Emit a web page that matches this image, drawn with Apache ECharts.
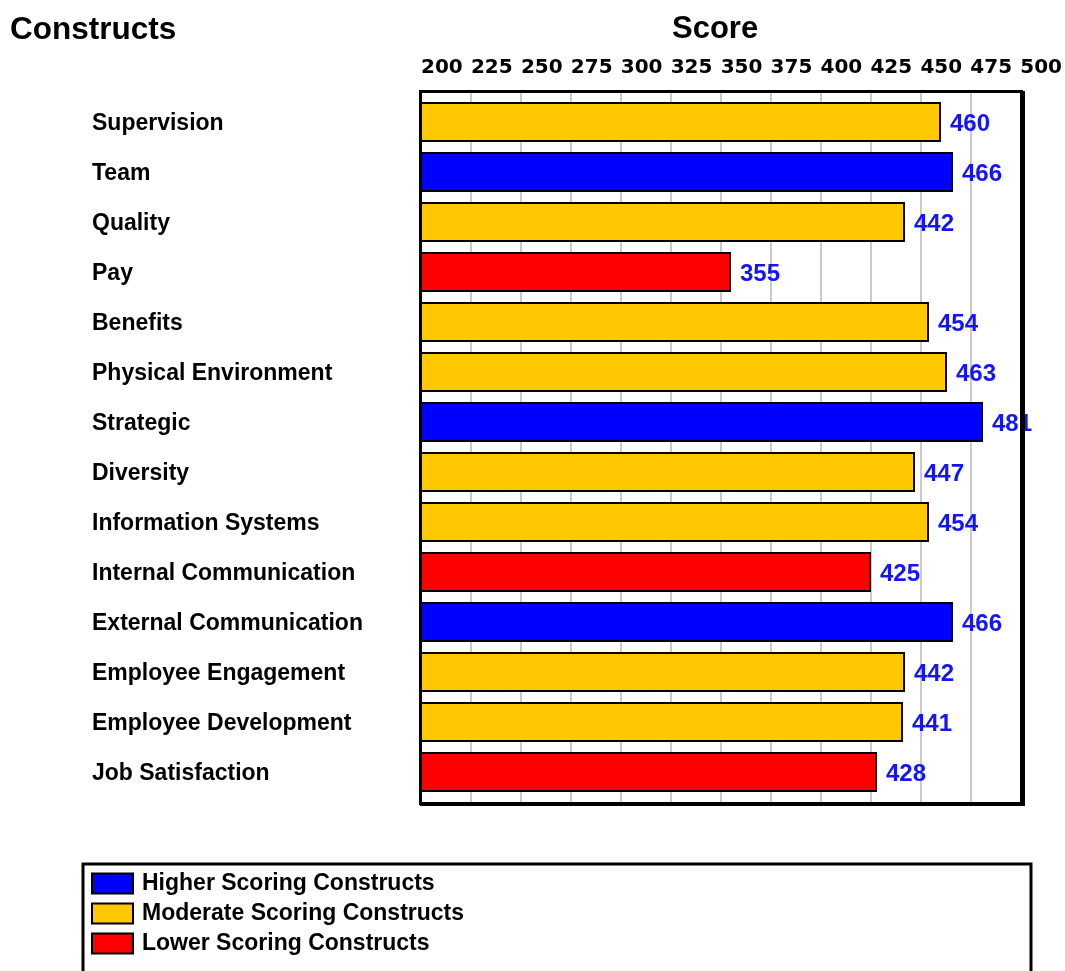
<!DOCTYPE html>
<html>
<head>
<meta charset="utf-8">
<script src="https://cdn.jsdelivr.net/npm/echarts@6/dist/echarts.min.js"></script>
<style>
html,body{margin:0;padding:0;background:#fff;}
#chart{width:1065px;height:971px;}
</style>
</head>
<body>
<div id="chart"></div>
<script>
const categories = ["Supervision","Team","Quality","Pay","Benefits","Physical Environment","Strategic","Diversity","Information Systems","Internal Communication","External Communication","Employee Engagement","Employee Development","Job Satisfaction"];
const scores = [460,466,442,355,454,463,481,447,454,425,466,442,441,428];
const levels = ["Moderate","Higher","Moderate","Lower","Moderate","Moderate","Higher","Moderate","Moderate","Lower","Higher","Moderate","Moderate","Lower"];
const groupNames = ["Higher Scoring Constructs","Moderate Scoring Constructs","Lower Scoring Constructs"];
const groupKeys = ["Higher","Moderate","Lower"];
const groupColors = ["#0000ff","#ffc800","#ff0000"];
const tickMin = 200, tickMax = 500, tickStep = 25;

const FONT = '"Liberation Sans", Arial, sans-serif';

const series = groupKeys.map((k, gi) => ({
  name: groupNames[gi],
  type: 'bar',
  xAxisIndex: 1,
  yAxisIndex: 1,
  barWidth: 40,
  barGap: '-100%',
  z: 3,
  itemStyle: { color: groupColors[gi], borderColor: '#000', borderWidth: 2 },
  label: {
    show: true, position: 'right', distance: 9, offset: [0, 2],
    color: '#1414ff', fontFamily: FONT, fontWeight: 'bold', fontSize: 24,
    formatter: '{c}'
  },
  data: scores.map((v, i) => levels[i] === k ? v : null)
}));

const chart = echarts.init(document.getElementById('chart'));
chart.setOption({
  animation: false,
  backgroundColor: '#fff',
  title: [
    { text: 'Constructs', left: 5, top: 9, textStyle: { fontFamily: FONT, fontWeight: 'bold', fontSize: 31.5, color: '#000' } },
    { text: 'Score', left: 667, top: 9, textStyle: { fontFamily: FONT, fontWeight: 'bold', fontSize: 31, color: '#000' } }
  ],
  grid: [
    { left: 421, width: 600, top: 92, height: 711 },
    { left: 421, width: 600, top: 97, height: 700 }
  ],
  xAxis: [
    {
      gridIndex: 0, type: 'value', position: 'top', min: tickMin, max: tickMax, interval: tickStep,
      axisLine: { show: false }, axisTick: { show: false },
      splitLine: { show: true, lineStyle: { color: '#b8b8b8', width: 1.5 } },
      axisLabel: { align: 'left', margin: 14, color: '#000', fontFamily: '"DejaVu Sans", sans-serif', fontWeight: 'bold', fontSize: 20, showMinLabel: true, showMaxLabel: true }
    },
    { gridIndex: 1, type: 'value', min: tickMin, max: tickMax, show: false }
  ],
  yAxis: [
    { gridIndex: 0, type: 'value', show: false },
    {
      gridIndex: 1, type: 'category', inverse: true, data: categories,
      axisLine: { show: false }, axisTick: { show: false }, splitLine: { show: false },
      axisLabel: {
        align: 'left', margin: 329, interval: 0,
        formatter: '{a|{value}}',
        rich: { a: { color: '#000', fontFamily: FONT, fontWeight: 'bold', fontSize: 23, padding: [4, 0, 0, 0] } }
      }
    }
  ],
  legend: {
    orient: 'vertical', left: 86, top: 867, itemWidth: 41, itemHeight: 20, itemGap: 7,
    icon: 'rect', padding: 5,
    textStyle: { fontFamily: FONT, fontWeight: 'bold', fontSize: 23, color: '#000', padding: [0, 0, 0, 4] },
    data: groupNames
  },
  graphic: [
    { type: 'rect', shape: { x: 83, y: 864, width: 948, height: 140 }, style: { fill: 'none', stroke: '#000', lineWidth: 3 }, z: 10 },
    { type: 'rect', shape: { x: 420.5, y: 91.5, width: 601, height: 712 }, style: { fill: 'none', stroke: '#000', lineWidth: 3 }, z: 10 },
    { type: 'rect', shape: { x: 1021, y: 91, width: 4, height: 715 }, style: { fill: '#000' }, z: 10 },
    { type: 'rect', shape: { x: 420, y: 802, width: 605, height: 4 }, style: { fill: '#000' }, z: 10 }
  ],
  series: series
});
</script>
</body>
</html>
